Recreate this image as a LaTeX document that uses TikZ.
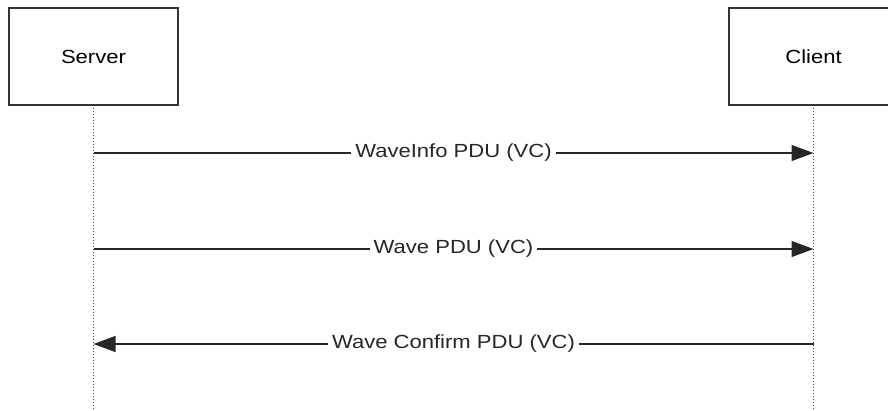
\documentclass[tikz,border=0pt]{standalone}
\usepackage{fontspec}
\setmainfont{Liberation Sans}
\usetikzlibrary{arrows.meta}
\newcommand{\widetext}[1]{\scalebox{1.16}[1]{#1}}
\begin{document}
\begin{tikzpicture}
[x=1pt,y=-1pt,
  actordecorate/.style={shape=rectangle,draw=black!80,line width=1.3pt,fill=white,
    minimum width=169pt,minimum height=97pt,font=\fontsize{19}{22}\selectfont},%
  lifedecorate/.style={black!70,line width=1pt,dotted},%
  msgdecorate/.style={black!85,line width=1.4pt},%
  labeldecorate/.style={fill=white,inner sep=4pt,font=\fontsize{19}{22}\selectfont,text=black!85}]
\useasboundingbox (0,0) rectangle (888,410);
\clip (0,0) rectangle (888,410);
%% lifelines
\coordinate (serverend) at (93.5,410);
\coordinate (clientend) at (813.5,410);
\draw [lifedecorate] (93.5,105) -- (serverend);
\draw [lifedecorate] (813.5,105) -- (clientend);
%% actors
\node (server) at (93.5,56.5) [actordecorate] {\widetext{Server}};
\node (client) at (813.5,56.5) [actordecorate,minimum width=200pt,xshift=15.5pt] {\hspace*{-31pt}\widetext{Client}};
%% messages
\foreach \msgname/\y/\msgtext/\tip in {
  info/153/WaveInfo PDU (VC)/{-{Triangle[length=22pt,width=16pt]}},
  wave/249/Wave PDU (VC)/{-{Triangle[length=22pt,width=16pt]}},
  confirm/344/Wave Confirm PDU (VC)/{{Triangle[length=22pt,width=16pt]}-}}
{
  \coordinate (s\msgname) at (serverend |- 0,\y);
  \coordinate (c\msgname) at (clientend |- 0,\y);
  \draw [msgdecorate,\tip] (s\msgname) -- node [labeldecorate] {\widetext{\msgtext}} (c\msgname);
}
\end{tikzpicture}
\end{document}
